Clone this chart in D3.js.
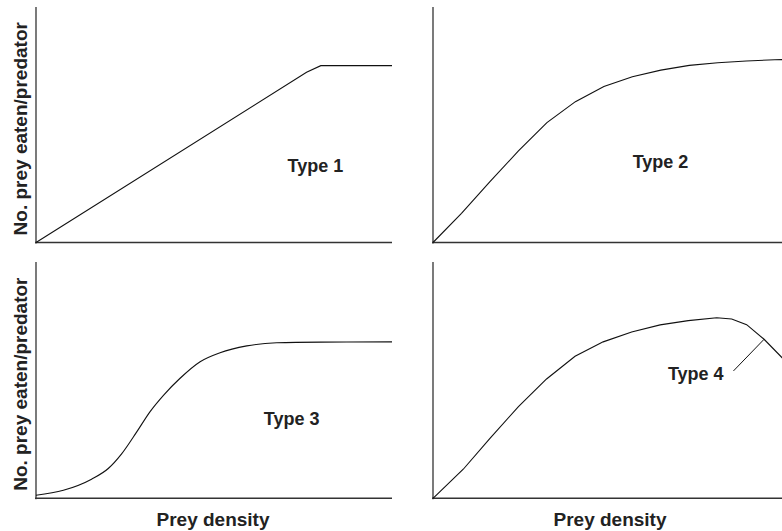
<!DOCTYPE html>
<html>
<head>
<meta charset="utf-8">
<script src="https://cdn.jsdelivr.net/npm/d3@7"></script>
<style>
  body { margin: 0; background: #fff; }
  svg { display: block; font-family: "Liberation Sans", Arial, sans-serif; }
</style>
</head>
<body>
<svg id="chart" width="782" height="531"></svg>
<script>
// curve values, x and y both in % of the panel's range
const type1 = [[0, 0], [76, 72.3], [80, 75.1], [100, 75.1]];
const type2 = [[0, 0], [8, 12.4], [16, 25.8], [24, 38.9], [32, 50.9], [40, 59.8], [48, 66.2],
  [56, 70.4], [64, 73.2], [72, 75.2], [80, 76.3], [88, 77.1], [96, 77.6], [100, 77.7]];
const type3 = [[0, 1.3], [7.7, 3.4], [15.6, 8.1], [20.3, 12.6], [24.1, 18.9], [28.3, 28.1],
  [32, 36.6], [35.8, 43.6], [40.4, 50.7], [46.1, 57.8], [51.7, 61.6], [59.2, 64.5],
  [67.6, 65.8], [80, 66.1], [100, 66.2]];
const type4 = [[0, 0], [8.5, 12.3], [16, 25.4], [24, 38.8], [31.9, 50.5], [39.9, 60.1],
  [47.8, 66.2], [55.8, 70.4], [63.8, 73.4], [71.7, 75.2], [79.7, 76.4], [83.9, 75.9],
  [88.1, 73.5], [93, 67.3], [100, 56.5]];

const typeLabels = ["Type 1", "Type 2", "Type 3", "Type 4"];
// label anchor (middle, baseline) in data units
const labelPos = [[78.5, 29.9], [63.9, 31.6], [71.8, 31.0], [73.8, 50.1]];
const leader4 = [[84.4, 53.9], [93, 67.3]];

const yLabel = "No. prey eaten/predator";
const xLabel = "Prey density";

const svg = d3.select("#chart");

const panels = [
  { data: type1, left: 36, top: 7, bottom: 242.5, curve: d3.curveLinear },
  { data: type2, left: 433, top: 7, bottom: 242.5, curve: d3.curveLinear },
  { data: type3, left: 36, top: 262, bottom: 498.3, curve: d3.curveMonotoneX },
  { data: type4, left: 433, top: 262, bottom: 498.3, curve: d3.curveLinear }
];
const panelWidth = 356;

panels.forEach((p, i) => {
  const x = d3.scaleLinear().domain([0, 100]).range([p.left, p.left + panelWidth]);
  const y = d3.scaleLinear().domain([0, 100]).range([p.bottom, p.top]);
  const g = svg.append("g");

  // axes: plain lines, no ticks
  g.append("line")
    .attr("x1", x(0)).attr("x2", x(0))
    .attr("y1", y(100)).attr("y2", y(0) + 1)
    .attr("stroke", "#333").attr("stroke-width", 1.3);
  g.append("line")
    .attr("x1", x(0) - 1).attr("x2", x(100))
    .attr("y1", y(0)).attr("y2", y(0))
    .attr("stroke", "#333").attr("stroke-width", 1.6);

  const line = d3.line()
    .x(d => x(d[0]))
    .y(d => y(d[1]))
    .curve(p.curve);

  g.append("path")
    .datum(p.data)
    .attr("d", line)
    .attr("fill", "none")
    .attr("stroke", "#111")
    .attr("stroke-width", 1.1);

  g.append("text")
    .attr("x", x(labelPos[i][0]))
    .attr("y", y(labelPos[i][1]))
    .attr("text-anchor", "middle")
    .attr("font-size", "18px")
    .attr("font-weight", "bold")
    .attr("fill", "#222")
    .text(typeLabels[i]);

  if (i === 3) {
    g.append("line")
      .attr("x1", x(leader4[0][0])).attr("y1", y(leader4[0][1]))
      .attr("x2", x(leader4[1][0])).attr("y2", y(leader4[1][1]))
      .attr("stroke", "#111").attr("stroke-width", 1);
  }

  // y label on the left panels only
  if (p.left < 100) {
    g.append("text")
      .attr("transform", `translate(27, ${(p.top + p.bottom) / 2 + 4}) rotate(-90)`)
      .attr("text-anchor", "middle")
      .attr("font-size", "19px")
      .attr("font-weight", "bold")
      .attr("fill", "#222")
      .text(yLabel);
  }

  // x label on the bottom panels only
  if (p.top > 200) {
    g.append("text")
      .attr("x", x(50) - 1)
      .attr("y", 526)
      .attr("text-anchor", "middle")
      .attr("font-size", "19px")
      .attr("font-weight", "bold")
      .attr("fill", "#222")
      .text(xLabel);
  }
});
</script>
</body>
</html>
